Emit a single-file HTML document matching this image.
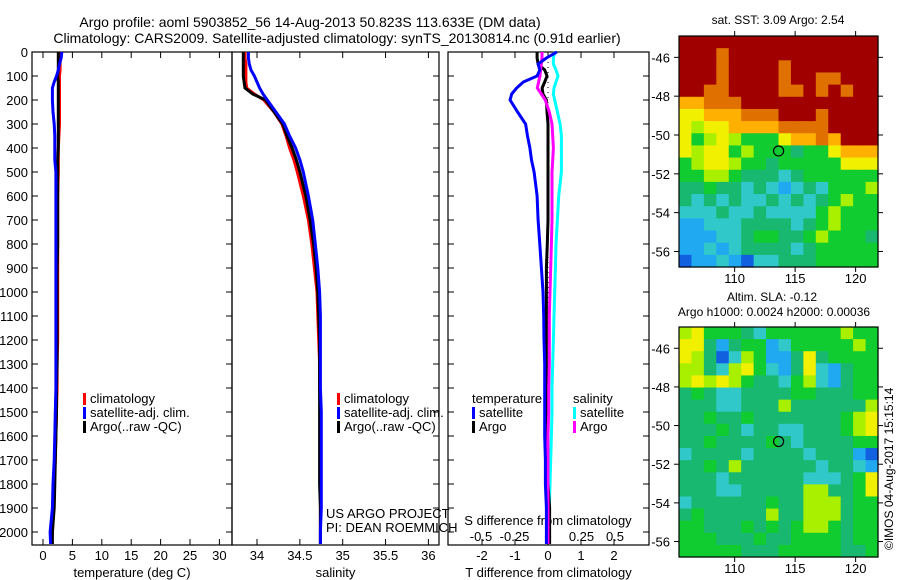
<!DOCTYPE html>
<html><head><meta charset="utf-8"><style>
body{margin:0;background:#fff;}
svg{display:block;font-family:"Liberation Sans",sans-serif;}
</style></head><body>
<svg id="c" width="900" height="580" viewBox="0 0 900 580"></svg>
<script>
const depths=[0,25,50,75,100,125,150,175,200,250,300,350,400,450,500,600,700,800,900,1000,1100,1200,1300,1400,1500,1600,1700,1800,1900,2000,2050];
const tempClim=[2.9,2.9,2.9,2.9,2.8,2.8,2.8,2.8,2.8,2.8,2.8,2.7,2.6,2.6,2.6,2.5,2.5,2.5,2.5,2.5,2.5,2.5,2.4,2.4,2.3,2.2,2.1,1.9,1.8,1.6,1.5];
const tempSat=[3.2,3.1,2.8,2.6,2.3,1.9,1.6,1.6,1.6,1.7,1.9,2.0,2.0,2.0,2.2,2.2,2.2,2.2,2.2,2.2,2.2,2.2,2.2,2.2,2.1,2.0,1.9,1.7,1.6,1.2,1.3];
const tempArgo=[2.6,2.6,2.6,2.6,2.5,2.6,2.6,2.6,2.6,2.6,2.6,2.6,2.6,2.5,2.5,2.5,2.5,2.5,2.4,2.4,2.4,2.4,2.4,2.3,2.3,2.2,2.1,2.0,1.9,1.6,1.6];
const salClim=[33.86,33.86,33.87,33.87,33.87,33.87,33.88,33.97,34.08,34.20,34.29,34.34,34.38,34.43,34.47,34.54,34.60,34.64,34.67,34.70,34.71,34.72,34.73,34.73,34.74,34.74,34.74,34.74,34.74,34.74,34.74];
const salSat=[33.9,33.9,33.91,33.93,33.97,34.0,34.03,34.07,34.12,34.22,34.32,34.38,34.45,34.50,34.54,34.60,34.65,34.68,34.71,34.73,34.74,34.74,34.74,34.74,34.75,34.75,34.75,34.75,34.75,34.74,34.74];
const salArgo=[33.84,33.84,33.84,33.84,33.84,33.85,33.86,33.95,34.1,34.2,34.3,34.35,34.41,34.46,34.5,34.57,34.62,34.66,34.69,34.71,34.72,34.73,34.73,34.73,34.73,34.73,34.73,34.73,34.74,34.74,34.74];
const tDiffSat=[0.27,-0.05,-0.3,-0.25,-0.33,-0.75,-0.95,-1.1,-1.15,-0.92,-0.68,-0.62,-0.55,-0.5,-0.42,-0.33,-0.3,-0.25,-0.2,-0.15,-0.13,-0.12,-0.1,-0.1,-0.1,-0.1,-0.08,-0.08,-0.05,-0.05,-0.05];
const tDiffArgo=[-0.33,-0.33,-0.3,-0.1,-0.03,-0.1,-0.18,-0.15,-0.05,-0.03,0,0,0,0,0,0,0,-0.02,-0.05,-0.05,-0.05,-0.05,-0.05,-0.05,-0.03,-0.03,-0.03,0,0.05,0.05,0.05];
const sDiffSat=[0.05,0.04,0.04,0.06,0.075,0.06,0.045,0.04,0.05,0.07,0.09,0.1,0.1,0.1,0.1,0.08,0.07,0.06,0.055,0.05,0.045,0.04,0.035,0.03,0.03,0.025,0.02,0.015,0.01,0.01,0.01];
const sDiffArgo=[-0.045,-0.045,-0.05,-0.055,-0.06,-0.07,-0.08,-0.05,-0.02,0.01,0.03,0.035,0.04,0.035,0.03,0.03,0.03,0.025,0.02,0.015,0.01,0.01,0.01,0.005,0.005,0,0,0,0,0,0];
const depthTicks=[0,100,200,300,400,500,600,700,800,900,1000,1100,1200,1300,1400,1500,1600,1700,1800,1900,2000];
const tempTicks=[0,5,10,15,20,25,30];
const salTicks=[34,34.5,35,35.5,36];
const tdTicks=[-2,-1,0,1,2];
const sdTicks=[-0.5,-0.25,0,0.25,0.5];
const sdTickLabels=["-0.5","-0.25","0","0.25","0.5"];
const latTicks=[-46,-48,-50,-52,-54,-56];
const lonTicks=[110,115,120];
const sstGrid=[
"9999999999999999","9998999999999999","9998999989999999","9998999989988999",
"9988999988989899","7788899999999999","6677788899989999","6566777788889999",
"6456544467787999","6566454443446777","4566544344444666","4455433323444444",
"3343323212324445","3232322323234544","2223223222245444","1122233332345444",
"1112234433454443","1121233332344444","0112102233344444"];
const slaGrid=[
"5644432444444544","6631344124444454","6530254113634444","5532564213621344",
"5656543324521344","3432233334433344","3332233353333335","3343343333333456",
"3334323322333456","3343333432333344","2333323333233310","3343533333323321",
"3332333333222346","3332233333553346","2333333433555344","3433333533555344",
"4433343434554344","4443334334444344","4444433344444334"];
const palette=["#1060e0","#20a8f0","#30c8c8","#18b870","#10cc30","#a8f000","#f0f000","#ffb000","#e07000","#a00000"];

const NS="http://www.w3.org/2000/svg";
const svg=document.getElementById('c');
function el(tag,attrs,parent){const e=document.createElementNS(NS,tag);for(const k in attrs)e.setAttribute(k,attrs[k]);(parent||svg).appendChild(e);return e;}
function txt(s,x,y,anchor,size,parent){const t=el('text',{x:x,y:y,'text-anchor':anchor||'start','font-size':size||13,fill:'#000'},parent);t.textContent=s;return t;}

const Y=d=>52+d*0.24;
const xT=v=>43+v*5.88;
const xS=v=>257+(v-34)*85.7;
const xTD=v=>548+v*33;
const xSD=v=>548+v*134;

let t=txt("Argo profile: aoml 5903852_56 14-Aug-2013 50.823S 113.633E (DM data)",310,27,'middle',14);


t=txt("Climatology: CARS2009. Satellite-adjusted climatology: synTS_20130814.nc (0.91d earlier)",337,43,'middle',14);



function panel(name,x0,x1,xticks,xfun,labels,xlabel,leftTicks){
  const g=el('g',{});
  
  
  el('rect',{x:x0,y:52,width:x1-x0,height:493,fill:'none',stroke:'#000','stroke-width':1.2},g);
  depthTicks.forEach(d=>{
    if(leftTicks) el('line',{x1:x0,x2:x0+6,y1:Y(d),y2:Y(d),stroke:'#000'},g);
    el('line',{x1:x1-6,x2:x1,y1:Y(d),y2:Y(d),stroke:'#000'},g);
  });
  xticks.forEach((v,i)=>{
    const x=xfun(v);
    el('line',{x1:x,x2:x,y1:52,y2:58,stroke:'#000'},g);
    el('line',{x1:x,x2:x,y1:539,y2:545,stroke:'#000'},g);
    if(labels) txt(labels[i],x,560,'middle',13,g);
  });
  if(xlabel) txt(xlabel,(x0+x1)/2,577,'middle',13,g);
  return g;
}
const p1=panel('temperature-panel',32,232,tempTicks,xT,tempTicks.map(String),'temperature (deg C)',true);
const p2=panel('salinity-panel',232,439,salTicks,xS,salTicks.map(String),'salinity',false);
const p3=panel('difference-panel',448,649,tdTicks,xTD,tdTicks.map(String),'T difference from climatology',true);
const dl=el('g',{});


depthTicks.forEach(d=>txt(String(d),28,Y(d)+5,'end',13,dl));
sdTicks.forEach((v,i)=>txt(sdTickLabels[i],xSD(v),541,'middle',13,p3));
txt("S difference from climatology",548,525,'middle',13,p3);

function line(parent,vals,xf,color,name,w){
  const pts=vals.map((v,i)=>xf(v).toFixed(1)+','+Y(depths[i]).toFixed(1)).join(' ');
  const p=el('polyline',{points:pts,fill:'none',stroke:color,'stroke-width':w||3,'stroke-linejoin':'miter'},parent);
  
  
}
el('line',{x1:xTD(0),x2:xTD(0),y1:52,y2:545,stroke:'#000','stroke-dasharray':'1,4'},p3);
line(p1,tempClim,xT,'#f00','temp-climatology-line');
line(p1,tempArgo,xT,'#000','temp-argo-line');
line(p1,tempSat,xT,'#00f','temp-satellite-line');
line(p2,salClim,xS,'#f00','sal-climatology-line');
line(p2,salArgo,xS,'#000','sal-argo-line');
line(p2,salSat,xS,'#00f','sal-satellite-line');
line(p3,sDiffSat,xSD,'#0ff','sdiff-satellite-line');
line(p3,tDiffArgo,xTD,'#000','tdiff-argo-line');
line(p3,sDiffArgo,xSD,'#f0f','sdiff-argo-line');
line(p3,tDiffSat,xTD,'#00f','tdiff-satellite-line');

function legend(parent,x,y,items,name){
  const g=el('g',{},parent);
  
  
  items.forEach((it,i)=>{
    if(it[1]) el('rect',{x:x,y:y+i*14-10,width:3,height:12,fill:it[1]},g);
    txt(it[0],x+(it[1]?7:0),y+i*14,'start',13,g);
  });
}
const li=[["climatology","#f00"],["satellite-adj. clim.","#00f"],["Argo(..raw -QC)","#000"]];
legend(p1,83,403,li,'temperature-legend');
legend(p2,337,403,li,'salinity-legend');
legend(p3,472,403,[["temperature",null],["satellite","#00f"],["Argo","#000"]],'tdiff-legend');
legend(p3,573,403,[["salinity",null],["satellite","#0ff"],["Argo","#f0f"]],'sdiff-legend');
legend(p2,326,518,[["US ARGO PROJECT",null],["PI: DEAN ROEMMICH",null]],'credit-text');

const LON0=105.4,LON1=121.85,LAT0=-44.9,LAT1=-56.8;
function map(name,y0,y1,grid){
  const g=el('g',{});
  
  
  const x0=679,x1=878;
  const mx=lon=>x0+(lon-LON0)/(LON1-LON0)*(x1-x0);
  const my=lat=>y0+(lat-LAT0)/(LAT1-LAT0)*(y1-y0);
  const rows=grid.length,cols=grid[0].length;
  const cw=(x1-x0)/cols,ch=(y1-y0)/rows;
  grid.forEach((r,ri)=>{for(let ci=0;ci<cols;ci++){
    el('rect',{x:(x0+ci*cw).toFixed(2),y:(y0+ri*ch).toFixed(2),width:(cw+0.6).toFixed(2),height:(ch+0.6).toFixed(2),fill:palette[+r[ci]]},g);
  }});
  el('rect',{x:x0,y:y0,width:x1-x0,height:y1-y0,fill:'none',stroke:'#000','stroke-width':1.2},g);
  latTicks.forEach(l=>{
    const y=my(l);
    el('line',{x1:x0-5,x2:x0,y1:y,y2:y,stroke:'#000'},g);
    el('line',{x1:x1,x2:x1+5,y1:y,y2:y,stroke:'#000'},g);
    txt(String(l),x0-9,y+5,'end',13,g);
  });
  lonTicks.forEach(l=>{
    const x=mx(l);
    el('line',{x1:x,x2:x,y1:y0-5,y2:y0,stroke:'#000'},g);
    el('line',{x1:x,x2:x,y1:y1,y2:y1+5,stroke:'#000'},g);
    txt(String(l),x,y1+16,'middle',13,g);
  });
  const c=el('circle',{cx:mx(113.633),cy:my(-50.823),r:5,fill:'none',stroke:'#000','stroke-width':1.2},g);
  
  
  return g;
}
const m1=map('sst-map',36,267,sstGrid);
txt("sat. SST: 3.09 Argo: 2.54",778,24,'middle',12,m1);
const m2=map('sla-map',327,557,slaGrid);
txt("Altim. SLA: -0.12",772,301,'middle',12,m2);
txt("Argo h1000: 0.0024 h2000: 0.00036",774,316,'middle',12,m2);
const cp=txt("©IMOS 04-Aug-2017 15:15:14",0,0,'start',12);
cp.setAttribute('transform','translate(893,550) rotate(-90)');


</script>
</body></html>
